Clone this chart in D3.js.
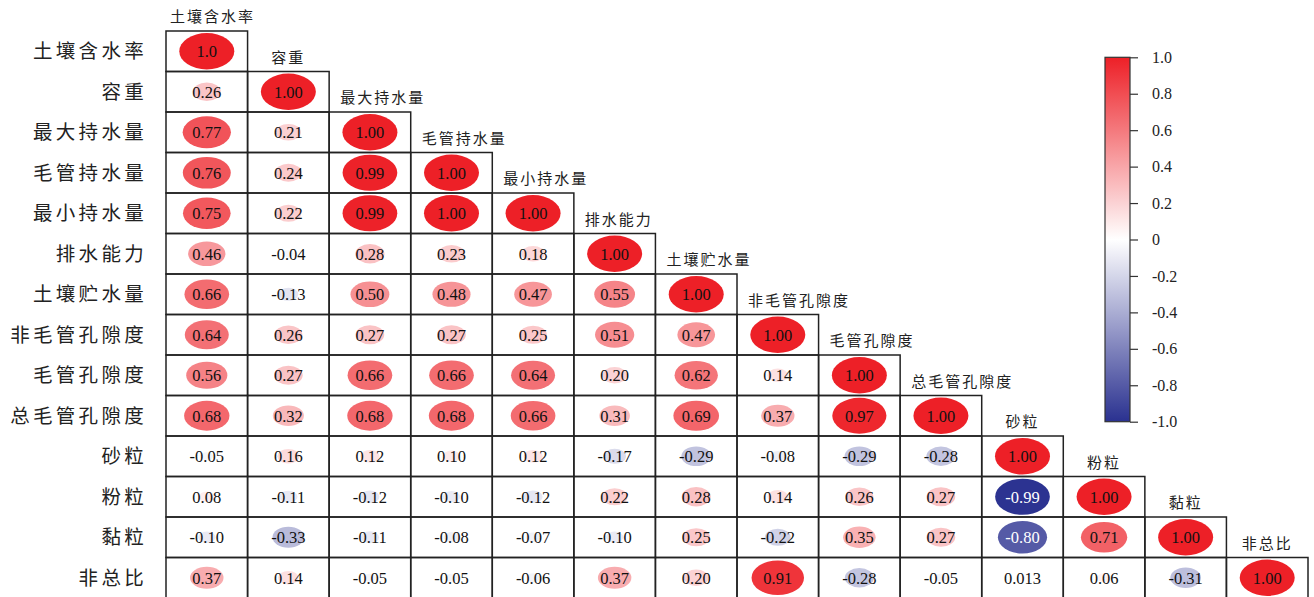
<!DOCTYPE html>
<html><head><meta charset="utf-8">
<script src="https://cdn.jsdelivr.net/npm/d3@7"></script>
<style>body{margin:0;background:#fff}svg{display:block}</style>
</head><body>
<svg id="c" width="1314" height="597"></svg>
<script>
const labels = ["土壤含水率","容重","最大持水量","毛管持水量","最小持水量","排水能力","土壤贮水量","非毛管孔隙度","毛管孔隙度","总毛管孔隙度","砂粒","粉粒","黏粒","非总比"];
const row0  = ["1.0"];
const row1  = ["0.26","1.00"];
const row2  = ["0.77","0.21","1.00"];
const row3  = ["0.76","0.24","0.99","1.00"];
const row4  = ["0.75","0.22","0.99","1.00","1.00"];
const row5  = ["0.46","-0.04","0.28","0.23","0.18","1.00"];
const row6  = ["0.66","-0.13","0.50","0.48","0.47","0.55","1.00"];
const row7  = ["0.64","0.26","0.27","0.27","0.25","0.51","0.47","1.00"];
const row8  = ["0.56","0.27","0.66","0.66","0.64","0.20","0.62","0.14","1.00"];
const row9  = ["0.68","0.32","0.68","0.68","0.66","0.31","0.69","0.37","0.97","1.00"];
const row10 = ["-0.05","0.16","0.12","0.10","0.12","-0.17","-0.29","-0.08","-0.29","-0.28","1.00"];
const row11 = ["0.08","-0.11","-0.12","-0.10","-0.12","0.22","0.28","0.14","0.26","0.27","-0.99","1.00"];
const row12 = ["-0.10","-0.33","-0.11","-0.08","-0.07","-0.10","0.25","-0.22","0.35","0.27","-0.80","0.71","1.00"];
const row13 = ["0.37","0.14","-0.05","-0.05","-0.06","0.37","0.20","0.91","-0.28","-0.05","0.013","0.06","-0.31","1.00"];
const rows = [row0,row1,row2,row3,row4,row5,row6,row7,row8,row9,row10,row11,row12,row13];
const colorbarTicks = [1.0,0.8,0.6,0.4,0.2,0,-0.2,-0.4,-0.6,-0.8,-1.0];

const svg = d3.select("#c");
const n = labels.length;
const idx = d3.range(n);
const x = d3.scaleBand().domain(idx).range([166, 1308]).paddingInner(0).paddingOuter(0);
const y = d3.scaleBand().domain(idx).range([31, 598]);
const color = d3.scaleLinear().domain([-1,0,1]).range(["#2a3190","#ffffff","#ed2027"]).interpolate(d3.interpolateRgb);
const size = d3.scaleSqrt().domain([0,1]).range([0,1]);
const RX = 27.5, RY = 18.2;

const cells = [];
rows.forEach((r,i)=>r.forEach((s,j)=>cells.push({i,j,s,v:+s})));

const serif = "'Liberation Serif','Times New Roman',serif";
const cjk = "'Noto Sans CJK SC','Noto Sans',sans-serif";

const g = svg.append("g");
const cg = g.selectAll("g.cell").data(cells).join("g").attr("class","cell")
  .attr("transform",d=>`translate(${x(d.j)},${y(d.i)})`);
cg.append("ellipse")
  .attr("cx",x.bandwidth()/2).attr("cy",y.bandwidth()/2)
  .attr("rx",d=>RX*size(Math.abs(d.v))).attr("ry",d=>RY*size(Math.abs(d.v)))
  .attr("fill",d=>color(d.v));
cg.append("rect").attr("width",x.bandwidth()).attr("height",y.bandwidth())
  .attr("fill","none").attr("stroke","#222").attr("stroke-width",1.5);
cg.append("text")
  .attr("x",x.bandwidth()/2).attr("y",y.bandwidth()/2).attr("dy","0.35em")
  .attr("text-anchor","middle").attr("font-family",serif).attr("font-size",16.5)
  .attr("fill",d=>d.v < -0.5 ? "#fff" : "#111")
  .text(d=>d.s);

// row labels
g.selectAll("text.rl").data(labels).join("text").attr("class","rl")
  .attr("x",147).attr("y",(d,i)=>y(i)+y.bandwidth()/2).attr("dy","0.36em")
  .attr("text-anchor","end").attr("font-family",cjk).attr("font-size",19.5)
  .attr("letter-spacing",3.3).attr("fill","#222").text(d=>d);

// diagonal labels
const dl = g.selectAll("text.dl").data(labels).join("text").attr("class","dl")
  .attr("y",(d,i)=>y(i)-14).attr("dy","0.36em")
  .attr("font-family",cjk).attr("font-size",15).attr("letter-spacing",2)
  .attr("fill","#222").text(d=>d);
dl.each(function(d,i){
  const w = this.getComputedTextLength();
  const off = w < 60 ? (x.bandwidth()-w)/2 : (i===0 ? 4 : 11);
  d3.select(this).attr("x", x(i)+off);
});

// colorbar
const cb = svg.append("g");
const cy = d3.scaleLinear().domain([-1,1]).range([421.7,57.3]);
const defs = svg.append("defs");
const grad = defs.append("linearGradient").attr("id","cbg").attr("x1",0).attr("y1",1).attr("x2",0).attr("y2",0);
d3.range(-1,1.0001,0.1).forEach(v=>grad.append("stop").attr("offset",(v+1)/2).attr("stop-color",color(v)));
cb.append("rect").attr("x",1105).attr("y",cy(1)).attr("width",25).attr("height",cy(-1)-cy(1))
  .attr("fill","url(#cbg)").attr("stroke","#333").attr("stroke-width",1.2);
const ax = cb.append("g").attr("transform","translate(1130,0)")
  .call(d3.axisRight(cy).tickValues(colorbarTicks).tickSize(8).tickSizeOuter(0).tickPadding(14)
    .tickFormat(d=>d===0?"0":d.toFixed(1)));
ax.select(".domain").remove();
ax.selectAll("line").attr("stroke","#333").attr("stroke-width",1.2);
ax.selectAll("text").attr("font-family",serif).attr("font-size",16).attr("fill","#222");
</script>
</body></html>
